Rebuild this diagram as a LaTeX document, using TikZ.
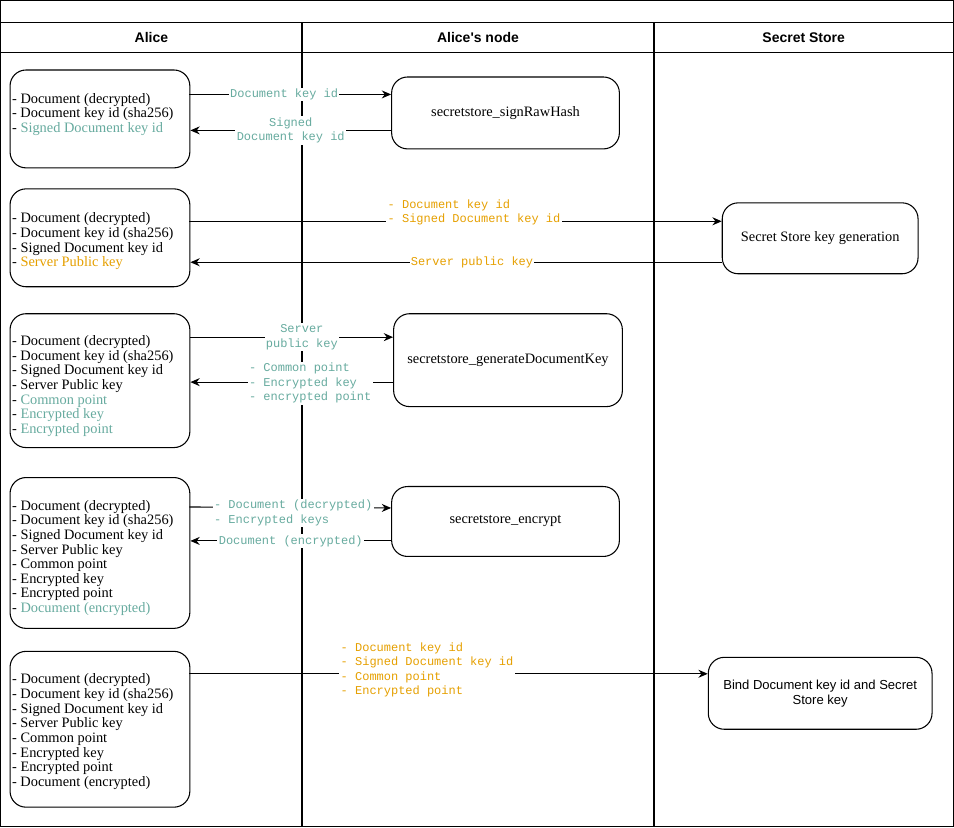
\documentclass[tikz,border=0pt]{standalone}
\usepackage{fontspec}
\setmainfont{Liberation Serif}
\newfontfamily\headfont{Liberation Sans}
\newfontfamily\codefont{Liberation Mono}
\usetikzlibrary{arrows.meta}
\definecolor{tealtxt}{HTML}{67AB9F}
\definecolor{orangetxt}{HTML}{E6A000}
\tikzset{
  box/.style 2 args={draw,thick,rounded corners=12pt,anchor=north west,inner sep=0pt,
    minimum width=#1*0.75pt,minimum height=#2*0.75pt},
  items/.style={align=left,anchor=west,font=\fontsize{10.8pt}{11pt}\selectfont,inner sep=1pt},
  call/.style={font=\fontsize{10.8pt}{12pt}\selectfont},
  msg/.style={font=\codefont\fontsize{9pt}{10.9pt}\selectfont,fill=white,inner sep=1pt,align=center},
  flow/.style={-{Stealth[length=7pt,width=6pt]},thick},
  head/.style={font=\headfont\bfseries\fontsize{10.5pt}{12pt}\selectfont}
}
\newcommand{\tl}[1]{\textcolor{tealtxt}{#1}}
\newcommand{\og}[1]{\textcolor{orangetxt}{#1}}
\begin{document}
\begin{tikzpicture}[x=0.75pt,y=-0.75pt]
    % Marco y carriles
    \draw[thick] (0,0) rectangle (954,827);
    \draw[thick] (0,22) -- (954,22);
    \draw[thick] (0,52) -- (954,52);
    \draw[semithick,line width=1.1pt] (302,22) -- (302,827);
    \draw[semithick,line width=1.1pt] (654,22) -- (654,827);
    \node[head] (hA) at (151,37) {Alice};
    \node[head] (hN) at (478,37) {Alice's node};
    \node[head] (hS) at (804,37) {Secret Store};

    % Caja 1
    \node[box={180}{98},fill=white] (a1) at (9,69) {};
    \node[items] (a1t) at (10,114) {- Document (decrypted)\\- Document key id (sha256)\\- \tl{Signed Document key id}};
    \node[box={228}{72},fill=white] (n1) at (391,76) {};
    \node[call] (n1t) at (n1.center) {secretstore\_signRawHash};
    \coordinate (p1) at (189,94);
    \coordinate (q1) at (391,130);
    \draw[flow] (p1) -- (p1 -| n1.west) node[msg,pos=0.47] {\tl{Document key id}};
    \draw[flow] (q1) -- (q1 -| a1.east) node[msg,pos=0.5] {\tl{Signed}\\\tl{Document key id}};

    % Caja 2
    \node[box={180}{98},fill=white] (a2) at (9,188) {};
    \node[items] (a2t) at (10,241) {- Document (decrypted)\\- Document key id (sha256)\\- Signed Document key id\\- \og{Server Public key}};
    \node[box={196}{71},fill=white] (s1) at (722,202) {};
    \node[call] (s1t) at (s1.center) {Secret Store key generation};
    \coordinate (p2) at (189,221);
    \coordinate (q2) at (722,262);
    \draw[flow] (p2) -- (p2 -| s1.west);
    \node[msg,align=left] (m2) at (474,212) {\og{- Document key id}\\\og{- Signed Document key id}};
    \draw[flow] (q2) -- (q2 -| a2.east) node[msg,pos=0.47] {\og{Server public key}};

    % Caja 3
    \node[box={180}{134},fill=white] (a3) at (9,313) {};
    \node[items] (a3t) at (10,386) {- Document (decrypted)\\- Document key id (sha256)\\- Signed Document key id\\- Server Public key\\- \tl{Common point}\\- \tl{Encrypted key}\\- \tl{Encrypted point}};
    \node[box={229}{93},fill=white] (n2) at (393,313) {};
    \node[call] (n2t) at (n2.center) {secretstore\_generateDocumentKey};
    \coordinate (p3) at (190,337);
    \coordinate (q3) at (393,382);
    \draw[flow] (p3) -- (p3 -| n2.west) node[msg,pos=0.55] {\tl{Server}\\\tl{public key}};
    \draw[flow] (q3) -- (q3 -| a3.east);
    \node[msg,align=left] (m3) at (310,383) {\tl{- Common point}\\\tl{- Encrypted key}\\\tl{- encrypted point}};

    % Caja 4
    \node[box={180}{151},fill=white] (a4) at (9,477) {};
    \node[items] (a4t) at (10,558) {- Document (decrypted)\\- Document key id (sha256)\\- Signed Document key id\\- Server Public key\\- Common point\\- Encrypted key\\- Encrypted point\\- \tl{Document (encrypted)}};
    \node[box={228}{70},fill=white] (n3) at (391,486) {};
    \node[call] (n3t) at (n3.center) {secretstore\_encrypt};
    \coordinate (p4) at (189,507);
    \coordinate (q4) at (391,541);
    \draw[flow] (p4) -- (n3.west |- 0,508);
    \node[msg,align=left] (m4) at (293,513) {\tl{- Document (decrypted)}\\\tl{- Encrypted keys}};
    \draw[flow] (q4) -- (q4 -| a4.east) node[msg,pos=0.5] {\tl{Document (encrypted)}};

    % Caja 5
    \node[box={180}{156},fill=white] (a5) at (9,651) {};
    \node[items] (a5t) at (10,732) {- Document (decrypted)\\- Document key id (sha256)\\- Signed Document key id\\- Server Public key\\- Common point\\- Encrypted key\\- Encrypted point\\- Document (encrypted)};
    \node[box={224}{72},fill=white] (s2) at (708,657) {};
    \node[align=center,font=\headfont\fontsize{9.8pt}{11.5pt}\selectfont] (s2t) at (s2.center) {Bind Document key id and Secret\\Store key};
    \coordinate (p5) at (189,674);
    \draw[flow] (p5) -- (p5 -| s2.west);
    \node[msg,align=left] (m5) at (427,670) {\og{- Document key id}\\\og{- Signed Document key id}\\\og{- Common point}\\\og{- Encrypted point}};
\end{tikzpicture}
\end{document}
